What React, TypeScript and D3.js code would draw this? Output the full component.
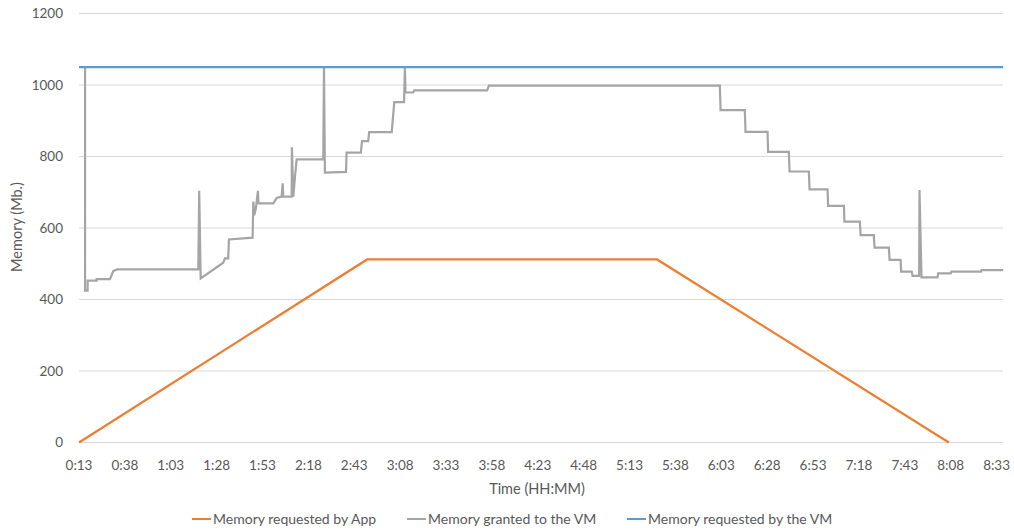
import React from "react";
import * as d3 from "d3";

// time in minutes since 0:00
const tickMinutes = [13, 38, 63, 88, 113, 138, 163, 188, 213, 238, 263, 288, 313, 338, 363, 388, 413, 438, 463, 488, 513];
const yTicks = [0, 200, 400, 600, 800, 1000, 1200];

const appRequested: [number, number][] = [
  [13, 0], [170, 512], [328, 512], [487, 0],
];

const vmRequested: [number, number][] = [
  [13, 1050], [516.6, 1050],
];

const vmGranted: [number, number][] = [
  [16.3, 1050], [16.3, 425], [17.7, 425], [17.7, 453], [22.6, 453], [22.6, 457], [29.9, 457], [31.7, 480], [33.9, 484],
  [78, 484], [78.5, 704], [79.3, 459], [91.6, 503], [92.5, 515], [94.3, 515], [94.7, 568], [107.6, 573],
  [108, 674], [108.5, 636], [109.4, 655], [110.5, 704], [110.8, 669], [118.9, 669], [120.7, 684], [123.4, 688],
  [124, 725], [124.3, 688], [128.9, 688], [129, 826], [129.8, 688], [130.7, 744], [131.6, 792], [146.1, 792],
  [146.5, 1050], [147, 755], [158.5, 757], [158.8, 811], [166.6, 811], [167.2, 843], [170.6, 843], [171.1, 868],
  [183.4, 868], [184.8, 952], [190.1, 952], [190.6, 1050], [190.9, 979], [195.1, 979], [195.7, 985], [235.4, 985],
  [236.4, 998], [362.2, 998], [362.6, 930], [375.8, 930], [376.2, 869], [388.2, 869], [388.5, 813], [399.8, 813],
  [400.2, 758], [410.7, 758], [411.1, 708], [420.9, 708], [421.2, 662], [429.8, 662], [430.1, 618], [438.5, 618],
  [438.9, 580], [446.1, 580], [446.5, 545], [454.3, 545], [454.7, 511], [460.7, 511], [461, 478], [466.8, 478],
  [467.2, 466], [470.8, 466], [471, 706], [472.1, 462], [480.8, 462], [481.2, 473], [488, 473], [488.4, 478],
  [504.4, 478], [504.8, 482], [516.6, 482],
];

const seriesNames = ["Memory requested by App", "Memory granted to the VM", "Memory requested by the VM"];
const seriesColors = ["#ed7d31", "#a5a5a5", "#5b9bd5"];

const fmt = (m: number) => `${Math.floor(m / 60)}:${String(m % 60).padStart(2, "0")}`;

export default function App() {
  const W = 1014, H = 530;
  const x = d3.scaleLinear().domain([13, 516.5]).range([79, 1003]);
  const y = d3.scaleLinear().domain([0, 1200]).range([442.5, 13.5]);
  const line = d3.line<[number, number]>().x((d) => x(d[0])).y((d) => y(d[1]));
  const font = "Lato, 'Open Sans', sans-serif";
  const legendX = [192, 407, 627];

  return (
    <svg width={W} height={H} style={{ position: "absolute", left: 0, top: 0, display: "block" }} fontFamily={font}>
      <rect width={W} height={H} fill="#fff" />
      {yTicks.map((t) => (
        <g key={t}>
          <line x1={79} x2={1003} y1={y(t)} y2={y(t)} stroke="#d9d9d9" strokeWidth={1} />
          <text x={63} y={y(t)} dy="0.35em" textAnchor="end" fontSize={13.5} fill="#595959">{t}</text>
        </g>
      ))}
      {tickMinutes.map((m) => (
        <text key={m} x={x(m)} y={470} textAnchor="middle" fontSize={13.5} fill="#595959">{fmt(m)}</text>
      ))}
      <text x={537} y={494} textAnchor="middle" fontSize={14.5} fill="#595959">Time (HH:MM)</text>
      <text transform="translate(22,227) rotate(-90)" textAnchor="middle" fontSize={14.5} fill="#595959">Memory (Mb.)</text>

      <path d={line(vmGranted) || ""} fill="none" stroke={seriesColors[1]} strokeWidth={2.2} />
      <path d={line(appRequested) || ""} fill="none" stroke={seriesColors[0]} strokeWidth={2.2} />
      <path d={line(vmRequested) || ""} fill="none" stroke={seriesColors[2]} strokeWidth={2.2} />

      {seriesNames.map((n, i) => (
        <g key={n}>
          <line x1={legendX[i]} x2={legendX[i] + 19} y1={519} y2={519} stroke={seriesColors[i]} strokeWidth={2} />
          <text x={legendX[i] + 21} y={519} dy="0.35em" fontSize={14} fill="#595959">{n}</text>
        </g>
      ))}
    </svg>
  );
}
